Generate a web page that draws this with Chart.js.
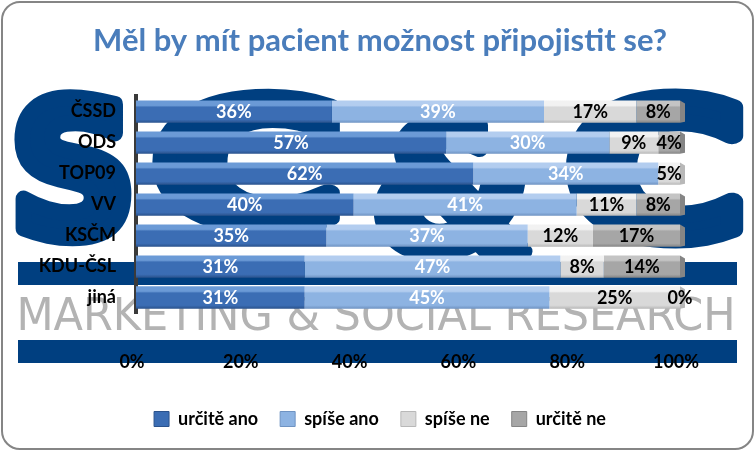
<!DOCTYPE html>
<html>
<head>
<meta charset="utf-8">
<script src="https://cdn.jsdelivr.net/npm/chart.js@4.4.1/dist/chart.umd.min.js"></script>
<style>
  html, body { margin: 0; padding: 0; background: #fff; }
  #wrap { width: 755px; height: 451px; }
</style>
</head>
<body>
<div id="wrap"><canvas id="chart" width="755" height="451"></canvas></div>
<script>
const categories = ['ČSSD', 'ODS', 'TOP09', 'VV', 'KSČM', 'KDU-ČSL', 'jiná'];
const seriesNames = ['určitě ano', 'spíše ano', 'spíše ne', 'určitě ne'];
const urciteAno = [36, 57, 62, 40, 35, 31, 31];
const spiseAno = [39, 30, 34, 41, 37, 47, 45];
const spiseNe = [17, 9, 5, 11, 12, 8, 25];
const urciteNe = [8, 4, null, 8, 17, 14, 0];
const tickValues = [0, 20, 40, 60, 80, 100];

// light, main, dark
const palette = [
  ['#6b9ad6', '#3b6db4', '#2a528c'],
  ['#b3cdef', '#8db3e2', '#6f93c2'],
  ['#f2f2f2', '#d9d9d9', '#b8b8b8'],
  ['#c4c4c4', '#a6a6a6', '#858585']
];
const labelColors = ['#ffffff', '#ffffff', '#000000', '#000000'];
const BAR_PCT = 0.72;

function barFill(cols) {
  return function (ctx) {
    const chart = ctx.chart;
    const ys = chart.scales && chart.scales.y;
    if (!chart.chartArea || !ys) return cols[1];
    const yc = ys.getPixelForValue(ctx.dataIndex);
    const half = ys.height / categories.length * BAR_PCT / 2;
    const g = chart.ctx.createLinearGradient(0, yc - half, 0, yc + half);
    g.addColorStop(0, cols[0]);
    g.addColorStop(0.22, cols[0]);
    g.addColorStop(0.3, cols[1]);
    g.addColorStop(0.85, cols[1]);
    g.addColorStop(1, cols[2]);
    return g;
  };
}

// draws text stretched into a box, optionally fattened with a stroke
function fitText(ctx, text, font, x0, y0, x1, y1, fat) {
  ctx.save();
  ctx.font = font;
  const m = ctx.measureText(text);
  const w = m.actualBoundingBoxLeft + m.actualBoundingBoxRight;
  const h = m.actualBoundingBoxAscent + m.actualBoundingBoxDescent;
  ctx.translate(x0, y0);
  ctx.scale((x1 - x0) / w, (y1 - y0) / h);
  ctx.fillText(text, m.actualBoundingBoxLeft, m.actualBoundingBoxAscent);
  if (fat) {
    ctx.lineWidth = fat;
    ctx.lineJoin = 'round';
    ctx.strokeText(text, m.actualBoundingBoxLeft, m.actualBoundingBoxAscent);
  }
  ctx.restore();
}

// background logo watermark + frame
const backdrop = {
  id: 'backdrop',
  beforeDraw(chart) {
    const ctx = chart.ctx;
    ctx.save();
    ctx.fillStyle = '#ffffff';
    ctx.fillRect(0, 0, chart.width, chart.height);
    ctx.fillStyle = '#003f80';
    ctx.strokeStyle = '#003f80';
    const f = 'bold 200px "DejaVu Sans"';
    fitText(ctx, 'S', f, 22, 97, 124, 238, 18);
    fitText(ctx, 'C', f, 163, 96, 328, 228, 18);
    fitText(ctx, '&', f, 382, 122, 525, 255, 18);
    fitText(ctx, 'C', f, 576, 96, 732, 240, 18);
    ctx.fillRect(18, 262, 719, 23);
    ctx.fillRect(18, 340, 719, 23);
    ctx.fillStyle = '#b3b3b3';
    fitText(ctx, 'MARKETING & SOCIAL RESEARCH', '48px "DejaVu Sans"', 20, 297, 732, 331);
    ctx.restore();
  },
  beforeTitleDraw(chart) {
    const ctx = chart.ctx;
    ctx.save();
    ctx.shadowColor = 'rgba(20, 50, 100, 0.6)';
    ctx.shadowBlur = 2;
    ctx.shadowOffsetX = 1;
    ctx.shadowOffsetY = 1;
  },
  afterTitleDraw(chart) {
    chart.ctx.restore();
  },
  afterDraw(chart) {
    const ctx = chart.ctx;
    ctx.save();
    ctx.strokeStyle = '#858585';
    ctx.lineWidth = 2;
    ctx.beginPath();
    ctx.roundRect(2, 2, 751, 447, 18);
    ctx.stroke();
    ctx.restore();
  }
};

// segment labels and the right end caps of the bars
const barLabels = {
  id: 'barLabels',
  afterDatasetsDraw(chart) {
    const ctx = chart.ctx;
    const xs = chart.scales.x, ys = chart.scales.y;
    const right = chart.chartArea.right;
    const half = ys.height / categories.length * BAR_PCT / 2;
    ctx.save();
    categories.forEach((cat, i) => {
      const yc = ys.getPixelForValue(i);
      let start = 0, last = 0;
      chart.data.datasets.forEach((ds, d) => {
        if (ds.data[i] !== null && ds.data[i] > 0) last = d;
      });
      // end cap
      ctx.fillStyle = palette[last][2];
      ctx.beginPath();
      ctx.moveTo(right, yc - half);
      ctx.lineTo(right + 5, yc - half + 3);
      ctx.lineTo(right + 5, yc + half - 1);
      ctx.lineTo(right, yc + half);
      ctx.closePath();
      ctx.fill();

      chart.data.datasets.forEach((ds, d) => {
        const v = ds.data[i];
        if (v === null) return;
        const x0 = Math.min(xs.getPixelForValue(start), right);
        const x1 = Math.min(xs.getPixelForValue(start + v), right);
        start += v;
        ctx.font = 'bold 18px Lato';
        ctx.textAlign = 'center';
        ctx.textBaseline = 'middle';
        ctx.fillStyle = labelColors[d];
        ctx.fillText(v + '%', (x0 + x1) / 2, yc + 1);
      });
    });
    ctx.restore();
  }
};

const datasets = [urciteAno, spiseAno, spiseNe, urciteNe].map((vals, d) => ({
  label: seriesNames[d],
  data: vals,
  backgroundColor: barFill(palette[d]),
  borderWidth: 0,
  barPercentage: BAR_PCT,
  categoryPercentage: 1
}));

new Chart(document.getElementById('chart'), {
  type: 'bar',
  data: { labels: categories, datasets: datasets },
  plugins: [backdrop, barLabels],
  options: {
    indexAxis: 'y',
    responsive: false,
    animation: false,
    layout: { padding: { left: 10, right: 5, top: 0, bottom: 13 } },
    scales: {
      x: {
        stacked: true,
        min: 0,
        max: 100,
        afterBuildTicks: (axis) => { axis.ticks = tickValues.map(v => ({ value: v })); },
        afterFit: (axis) => { axis.height = 75; },
        grid: { display: false, drawTicks: false },
        border: { display: false },
        ticks: {
          padding: 38,
          labelOffset: -4,
          color: '#000',
          font: { family: 'Lato', size: 18, weight: 'bold' },
          callback: (v) => v + '%'
        }
      },
      y: {
        stacked: true,
        afterFit: (axis) => { axis.width = 126; },
        grid: { display: false, drawTicks: false },
        border: { display: true, color: '#3a3a3a', width: 4 },
        ticks: {
          padding: 20,
          color: '#000',
          font: { family: 'Lato', size: 18, weight: 'bold' }
        }
      },
      // empty right-hand axis, keeps the plot narrow while title and legend stay centred
      y2: {
        type: 'category',
        position: 'right',
        afterFit: (axis) => { axis.width = 70; },
        grid: { display: false },
        border: { display: false },
        ticks: { display: false }
      }
    },
    plugins: {
      title: {
        display: true,
        text: 'Měl by mít pacient možnost připojistit se?',
        color: '#4a7dbb',
        font: { family: 'Lato', size: 31, weight: 'bold' },
        padding: { top: 22, bottom: 37 }
      },
      legend: {
        position: 'bottom',
        labels: {
          color: '#000',
          font: { family: 'Lato', size: 18, weight: 'bold' },
          boxWidth: 15,
          boxHeight: 15,
          padding: 22,
          generateLabels: (chart) => chart.data.datasets.map((ds, d) => ({
            text: ds.label,
            fillStyle: palette[d][1],
            strokeStyle: palette[d][2],
            lineWidth: 1,
            datasetIndex: d
          }))
        }
      },
      tooltip: { enabled: false }
    }
  }
});
</script>
</body>
</html>
